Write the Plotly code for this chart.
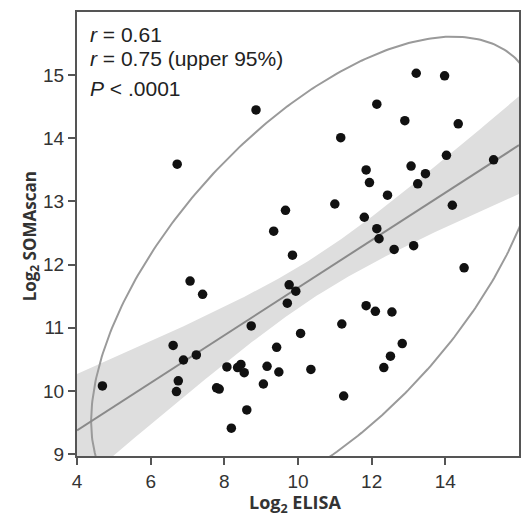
import numpy as np
import plotly.graph_objects as go

elisa = [4.69, 6.61, 6.89, 6.75, 6.70, 7.07, 7.41, 7.24, 8.73, 8.07, 8.45, 8.36, 8.54, 7.79, 7.86,
         8.61, 8.19, 9.06, 9.16, 9.42, 9.48, 9.85, 9.76, 9.94, 9.71, 10.07, 10.35, 11.19, 11.24,
         11.85, 12.10, 12.55, 12.83, 12.51, 12.33, 14.51, 13.21, 13.98, 12.14, 12.90, 14.35, 11.16,
         14.03, 15.31, 11.85, 13.07, 13.46, 11.94, 13.25, 12.43, 11.00, 9.66, 9.34, 11.80, 12.14,
         12.20, 14.19, 12.61, 13.14, 8.86, 6.72]
somascan = [10.08, 10.72, 10.49, 10.16, 9.99, 11.74, 11.53, 10.57, 11.03, 10.38, 10.42, 10.37, 10.29,
            10.05, 10.03, 9.70, 9.41, 10.11, 10.39, 10.69, 10.30, 12.15, 11.68, 11.58, 11.39, 10.91,
            10.34, 11.06, 9.92, 11.35, 11.26, 11.25, 10.75, 10.55, 10.37, 11.95, 15.03, 14.99, 14.54,
            14.28, 14.23, 14.01, 13.73, 13.66, 13.50, 13.56, 13.44, 13.30, 13.28, 13.10, 12.96, 12.86,
            12.53, 12.75, 12.57, 12.41, 12.94, 12.24, 12.30, 14.45, 13.59]
x_ticks = [4, 6, 8, 10, 12, 14]
y_ticks = [9, 10, 11, 12, 13, 14, 15]
stats_lines = ["<i>r</i> = 0.61", "<i>r</i> = 0.75 (upper 95%)", "<i>P</i> < .0001"]

x = np.array(elisa)
y = np.array(somascan)
n = len(x)

# linear fit and 95% confidence band of the mean
slope, intercept = np.polyfit(x, y, 1)
xs = np.linspace(4, 16, 200)
fit = intercept + slope * xs
resid = y - (intercept + slope * x)
s = np.sqrt(np.sum(resid ** 2) / (n - 2))
sxx = np.sum((x - x.mean()) ** 2)
tq = 2.001
se = s * np.sqrt(1.0 / n + (xs - x.mean()) ** 2 / sxx)
upper = fit + tq * se
lower = fit - tq * se

# 95% bivariate normal density ellipse
cov = np.cov(x, y)
L = np.linalg.cholesky(cov)
t = np.linspace(0, 2 * np.pi, 400)
c = np.sqrt(5.991)
circ = np.vstack([np.cos(t), np.sin(t)]) * c
ell = L @ circ
ex = ell[0] + x.mean()
ey = ell[1] + y.mean()

fig = go.Figure()
fig.add_trace(go.Scatter(x=np.concatenate([xs, xs[::-1]]), y=np.concatenate([upper, lower[::-1]]),
                         fill="toself", fillcolor="#dedede", line=dict(width=0), mode="lines",
                         hoverinfo="skip", showlegend=False))
fig.add_trace(go.Scatter(x=ex, y=ey, mode="lines", line=dict(color="#9a9a9a", width=2),
                         showlegend=False))
fig.add_trace(go.Scatter(x=xs, y=fit, mode="lines", line=dict(color="#8a8a8a", width=2),
                         showlegend=False))
fig.add_trace(go.Scatter(x=elisa, y=somascan, mode="markers",
                         marker=dict(color="#111111", size=9.5), showlegend=False))

ann_y = [15.64, 15.27, 14.79]
for txt, yy in zip(stats_lines, ann_y):
    fig.add_annotation(x=4.3, y=yy, xref="x", yref="y", text=txt, showarrow=False,
                       xanchor="left", yanchor="middle",
                       font=dict(family="Liberation Sans, Arial", size=21, color="#222222"))

fig.add_annotation(x=0.493, y=-0.106, xref="paper", yref="paper", text="<b>Log<sub>2</sub> ELISA</b>",
                   showarrow=False, xanchor="center", yanchor="middle",
                   font=dict(family="Open Sans, Arial", size=18, color="#333333"))
fig.add_annotation(x=-0.106, y=0.495, xref="paper", yref="paper", text="<b>Log<sub>2</sub> SOMAscan</b>",
                   showarrow=False, xanchor="center", yanchor="middle", textangle=-90,
                   font=dict(family="Open Sans, Arial", size=17, color="#333333"))

axis_common = dict(showgrid=False, zeroline=False, showline=True, linecolor="#555555", linewidth=2,
                   mirror=True, ticks="outside", ticklen=7, tickwidth=2, tickcolor="#555555",
                   automargin=False,
                   tickfont=dict(family="Liberation Sans, Arial", size=19, color="#333333"))
fig.update_xaxes(range=[4, 16], tickvals=x_ticks, ticktext=[str(v) for v in x_ticks], **axis_common)
fig.update_yaxes(range=[8.97, 16], tickvals=y_ticks, ticktext=[str(v) for v in y_ticks], **axis_common)
fig.update_layout(width=521, height=517, margin=dict(l=77, r=2, t=12, b=61),
                  plot_bgcolor="white", paper_bgcolor="white")
fig.write_html("out.html", config={"displayModeBar": False},
               post_script="document.body.style.margin='0';document.body.style.overflow='hidden';")
